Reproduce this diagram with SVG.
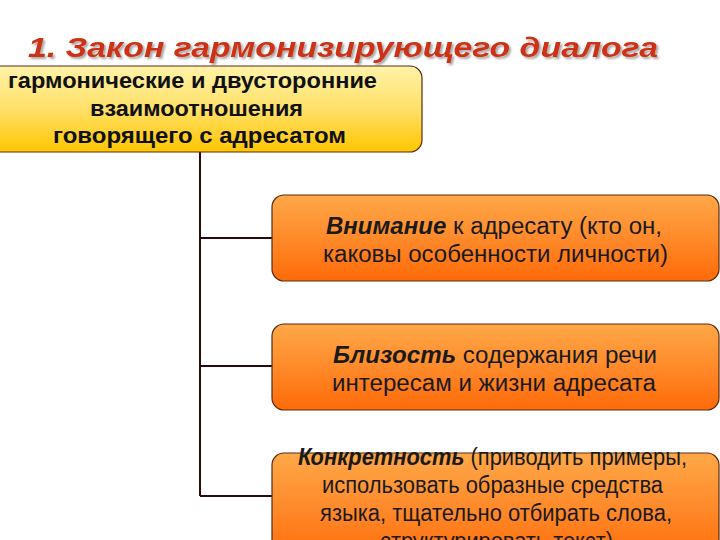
<svg xmlns="http://www.w3.org/2000/svg" width="720" height="540" viewBox="0 0 720 540">
<defs>
<linearGradient id="gy" x1="0" y1="0" x2="0" y2="1">
<stop offset="0" stop-color="#FFF3A8"/>
<stop offset="0.5" stop-color="#FFE068"/>
<stop offset="1" stop-color="#FFC600"/>
</linearGradient>
<linearGradient id="go" x1="0" y1="0" x2="0" y2="1">
<stop offset="0" stop-color="#FFA848"/>
<stop offset="0.5" stop-color="#FF8A2A"/>
<stop offset="1" stop-color="#FF6A08"/>
</linearGradient>
<filter id="ts" x="-5%" y="-20%" width="110%" height="150%">
<feGaussianBlur in="SourceAlpha" stdDeviation="1"/>
<feOffset dx="2" dy="2" result="b"/>
<feFlood flood-color="#000" flood-opacity="0.35"/>
<feComposite in2="b" operator="in"/>
<feMerge><feMergeNode/><feMergeNode in="SourceGraphic"/></feMerge>
</filter>
</defs>
<style>
.title{font-family:"Liberation Sans",Arial,sans-serif;font-size:28px;font-weight:bold;font-style:italic;fill:#CC3316}
.top{font-family:"Liberation Sans",Arial,sans-serif;font-size:22px;font-weight:bold;fill:#111}
.t{font-family:"Liberation Sans",Arial,sans-serif;font-size:23px;fill:#1a1a1a}
.b{font-weight:bold;font-style:italic}
.box{stroke:#5a2a10;stroke-width:1.2}
.con{stroke:#2a0a0a;stroke-width:2;fill:none}
</style>
<rect width="720" height="540" fill="#fff"/>
<text class="title" x="28" y="57" textLength="630" lengthAdjust="spacingAndGlyphs" filter="url(#ts)">1. Закон гармонизирующего диалога</text>
<g id="connectors">
<path class="con" d="M200,152 V496 M200,238 H272 M200,366 H272 M200,496 H272"/>
</g>
<g id="root">
<rect class="box" x="-20" y="66" width="442" height="86" rx="12" fill="url(#gy)"/>
<text class="top" x="8" y="88" textLength="369" lengthAdjust="spacingAndGlyphs">гармонические и двусторонние</text>
<text class="top" x="90" y="116" textLength="213" lengthAdjust="spacingAndGlyphs">взаимоотношения</text>
<text class="top" x="53" y="143" textLength="293" lengthAdjust="spacingAndGlyphs">говорящего с адресатом</text>
</g>
<g id="n1">
<rect class="box" x="272" y="195" width="447" height="86" rx="12" fill="url(#go)"/>
<text class="t" x="326" y="234" textLength="336" lengthAdjust="spacingAndGlyphs"><tspan class="b">Внимание</tspan> к адресату (кто он,</text>
<text class="t" x="323" y="262" textLength="345" lengthAdjust="spacingAndGlyphs">каковы особенности личности)</text>
</g>
<g id="n2">
<rect class="box" x="272" y="324" width="447" height="86" rx="12" fill="url(#go)"/>
<text class="t" x="333" y="363" textLength="324" lengthAdjust="spacingAndGlyphs"><tspan class="b">Близость</tspan> содержания речи</text>
<text class="t" x="332" y="391" textLength="324" lengthAdjust="spacingAndGlyphs">интересам и жизни адресата</text>
</g>
<g id="n3">
<rect class="box" x="272" y="453" width="447" height="110" rx="12" fill="url(#go)"/>
<text class="t" x="298" y="465" textLength="389" lengthAdjust="spacingAndGlyphs"><tspan class="b">Конкретность</tspan> (приводить примеры,</text>
<text class="t" x="322" y="493" textLength="341" lengthAdjust="spacingAndGlyphs">использовать образные средства</text>
<text class="t" x="320" y="521" textLength="352" lengthAdjust="spacingAndGlyphs">языка, тщательно отбирать слова,</text>
<text class="t" x="380" y="549" textLength="233" lengthAdjust="spacingAndGlyphs">структурировать текст)</text>
</g>
</svg>
